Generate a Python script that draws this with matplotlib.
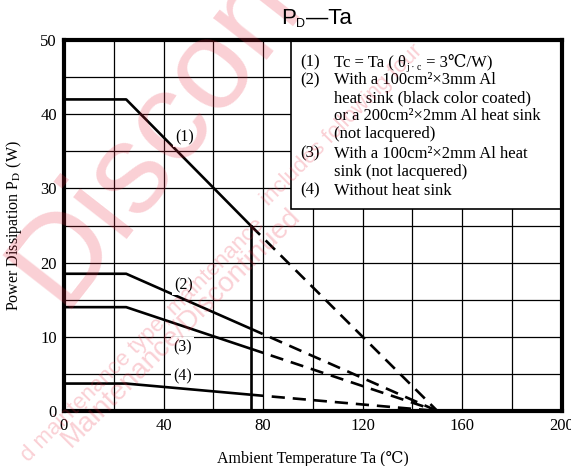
import matplotlib
matplotlib.use("Agg")
import matplotlib.pyplot as plt
from matplotlib.patches import Rectangle

plt.rcParams['font.family'] = ['Liberation Serif', 'DejaVu Serif', 'Noto Sans CJK JP']
plt.rcParams['mathtext.fontset'] = 'stix'

# derating curves: solid part (0..75) and dashed extension (75..150)
solidX = [0, 25, 75]
curve1 = [42, 42, 25]
curve2 = [18.5, 18.5, 11.1]
curve3 = [14, 14, 8.4]
curve4 = [3.7, 3.7, 2.2]
dashX = [75, 150]
curveNames = ['(1)', '(2)', '(3)', '(4)']
labelPos = [(48.5, 36.9), (48, 17.0), (47.5, 8.6), (47.5, 4.7)]

legendLines = [
    ('(1)', None),
    ('(2)', 'With a 100cm²×3mm Al'),
    ('', 'heat sink (black color coated)'),
    ('', 'or a 200cm²×2mm Al heat sink'),
    ('', '(not lacquered)'),
    ('(3)', 'With a 100cm²×2mm Al heat'),
    ('', 'sink (not lacquered)'),
    ('(4)', 'Without heat sink'),
]
legendY = [47.0, 44.6, 42.2, 39.7, 37.3, 34.7, 32.2, 29.7]
line1Parts = [('Tc = Ta ( θ', 12, 0), ('j · c', 7, -3), (' = 3℃/W)', 12, 0)]

fig = plt.figure(figsize=(5.71, 4.66), dpi=100)
ax = fig.add_axes([0.112, 0.118, 0.872, 0.796])

# watermark
wm = dict(color='#e8283f', alpha=0.22, zorder=0, ha='left', va='bottom',
          family='Liberation Sans', transform=fig.transFigure)
fig.text(-0.02, 0.30, 'Discontinued', fontsize=92, rotation=52, **wm)
fig.text(0.10, 0.03, 'Maintenance/Discontinued', fontsize=20, rotation=45, **wm)
fig.text(0.03, 0.0, 'd maintenance type, maintenance', fontsize=16, rotation=45, **wm)
fig.text(0.45, 0.55, 'includes following four', fontsize=16, rotation=45, **wm)

ax.set_xlim(0, 200)
ax.set_ylim(0, 50)
ax.set_facecolor('none')
ax.set_xticks(range(0, 201, 40))
ax.set_yticks(range(0, 51, 10))
ax.set_xticks(range(0, 201, 20), minor=True)
ax.set_yticks(range(0, 51, 5), minor=True)
ax.grid(True, which='both', color='black', linewidth=0.9, zorder=1)
ax.tick_params(which='both', length=0, labelsize=12, pad=5)
for s in ax.spines.values():
    s.set_linewidth(3)
    s.set_zorder(6)

lw = 1.9
for ys in [curve1, curve2, curve3, curve4]:
    ax.plot(solidX, ys, color='black', lw=lw, zorder=3, solid_capstyle='butt')
    ax.plot(dashX, [ys[-1], 0], color='black', lw=lw, dashes=(5, 3), zorder=3)
ax.plot([75, 75], [0, curve1[-1]], color='black', lw=lw, zorder=3)

for name, (px, py) in zip(curveNames, labelPos):
    ax.text(px, py, name, fontsize=11.5, ha='center', va='center', zorder=4,
            bbox=dict(facecolor='white', edgecolor='none', pad=1.5))

ax.add_patch(Rectangle((91, 27.2), 109, 22.8, facecolor='white', edgecolor='black',
                       lw=1.2, zorder=5))
fs = 12
for (num, txt), ly in zip(legendLines, legendY):
    if num:
        ax.text(95, ly, num, fontsize=fs, va='center', zorder=6)
    if txt:
        ax.text(108.5, ly, txt, fontsize=fs, va='center', zorder=6)

ax.set_xlabel('Ambient Temperature Ta (℃)', fontsize=11.5, labelpad=12)
ax.set_ylabel(r'Power Dissipation P$_{\mathrm{D}}$ (W)', fontsize=11.5, labelpad=12)


def chain(parts, x0, y0, **kw):
    # place text pieces one after another on a shared baseline (display px)
    fig.canvas.draw()
    x = x0
    for s, size, dy in parts:
        t = fig.text(x, y0 + dy, s, fontsize=size, va='baseline', ha='left',
                     transform=None, **kw)
        fig.canvas.draw()
        x = t.get_window_extent().x1 + 0.5


fig.canvas.draw()
bx, by = ax.transData.transform((108.5, legendY[0]))
chain(line1Parts, bx, by - 4.5, zorder=7)

# title P_D—Ta
chain([('P', 16, 0), ('D', 9, -3), ('—Ta', 16, 0)], 281, 466 - 24,
      family='Liberation Sans')

fig.savefig('out.png', dpi=100)
